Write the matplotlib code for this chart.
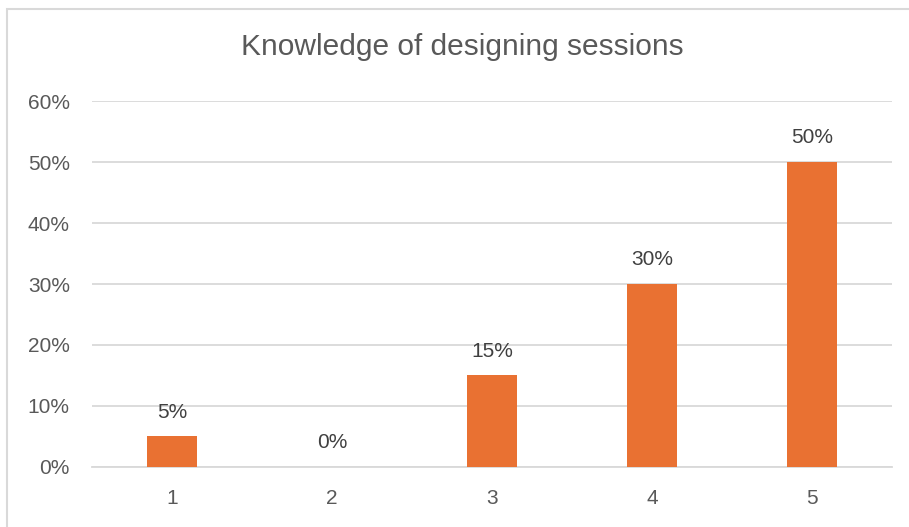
import matplotlib.pyplot as plt
from matplotlib.patches import Rectangle
from matplotlib.ticker import PercentFormatter

plt.rcParams['font.family'] = ['Liberation Sans', 'DejaVu Sans']

# Survey answers on a 1-5 scale and the share of respondents for each
ratings = ['1', '2', '3', '4', '5']
shares = [5, 0, 15, 30, 50]

ORANGE = '#E97132'
GRID = '#D9D9D9'
TEXT = '#595959'

fig = plt.figure(figsize=(9.09, 5.27), dpi=100)
ax = fig.add_axes([0.1012, 0.1139, 0.8801, 0.6944])

x = range(len(ratings))
bars = ax.bar(x, shares, width=0.31, color=ORANGE, zorder=3)

for bar, val in zip(bars, shares):
    ax.annotate(f'{val}%', xy=(bar.get_x() + bar.get_width() / 2, val),
                xytext=(0, 10.5), textcoords='offset points',
                ha='center', va='bottom', fontsize=15, color='#404040')

ax.set_xlim(-0.5, len(ratings) - 0.5)
ax.set_ylim(0, 60)
ax.set_yticks(range(0, 61, 10))
ax.yaxis.set_major_formatter(PercentFormatter(decimals=0))
ax.set_xticks(list(x))
ax.set_xticklabels(ratings)
ax.grid(axis='y', color=GRID, linewidth=1.3, zorder=0)
ax.tick_params(axis='both', length=0, labelsize=15, labelcolor=TEXT)
ax.tick_params(axis='x', pad=16)
ax.tick_params(axis='y', pad=16)
for side in ['top', 'right', 'left']:
    ax.spines[side].set_visible(False)
ax.spines['bottom'].set_color(GRID)
ax.spines['bottom'].set_linewidth(1.3)

fig.text(0.509, 0.91, 'Knowledge of designing sessions', ha='center', va='center',
         fontsize=21.5, color=TEXT)

# light chart-area border
fig.patches.append(Rectangle((7 / 909, -0.05), 1.05, 1 - 9 / 527 + 0.05,
                             transform=fig.transFigure, fill=False,
                             edgecolor=GRID, linewidth=1.5))

fig.savefig('out.png', dpi=100)
